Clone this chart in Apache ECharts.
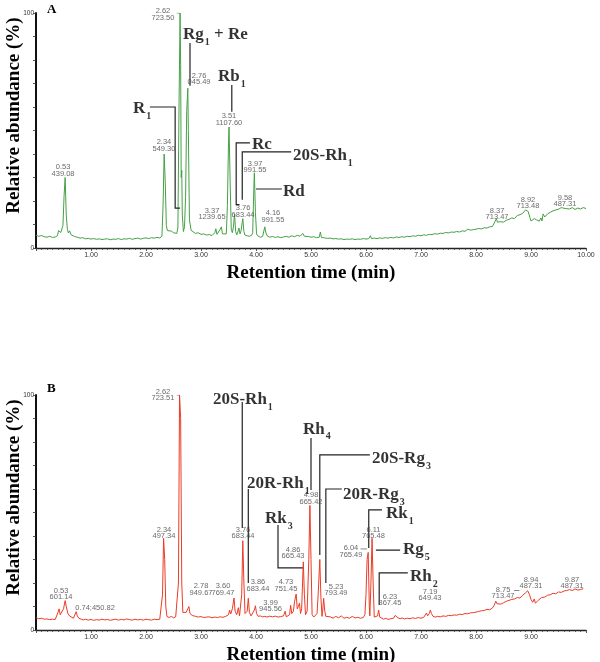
<!DOCTYPE html>
<html><head><meta charset="utf-8">
<script src="https://cdn.jsdelivr.net/npm/echarts@6/dist/echarts.min.js"></script>
<style>html,body{margin:0;padding:0;background:#fff}#c{width:600px;height:662px}</style>
</head><body><div id="c"></div>
<script>
// ---- Panel A trace: [retention time (min), relative abundance (%)]
const traceA = [[0.00,5.4],[0.05,5.0],[0.10,5.3],[0.15,4.8],[0.20,4.6],[0.25,5.0],[0.30,4.5],[0.35,4.7],[0.39,5.2],[0.41,7.4],[0.43,7.9],[0.45,6.6],[0.47,7.2],[0.49,9.5],[0.51,22],[0.53,30],[0.55,14],[0.57,8.0],[0.59,6.4],[0.61,7.3],[0.64,5.6],[0.67,5.9],[0.70,4.9],[0.75,4.6],[0.80,4.2],[0.85,4.4],[0.90,3.9],[0.95,4.1],[1.00,3.8],[1.05,4.0],[1.10,3.7],[1.15,3.9],[1.20,3.6],[1.25,3.8],[1.30,3.9],[1.35,3.5],[1.40,3.8],[1.45,3.7],[1.50,4.0],[1.55,3.6],[1.60,3.9],[1.65,3.8],[1.70,4.1],[1.75,3.7],[1.80,4.0],[1.85,4.2],[1.90,3.8],[1.95,4.1],[2.00,4.3],[2.05,4.0],[2.10,4.4],[2.15,4.2],[2.20,4.5],[2.25,4.3],[2.29,5.0],[2.31,18],[2.33,40],[2.35,28],[2.37,9.5],[2.39,7.4],[2.42,6.8],[2.46,7.2],[2.50,6.5],[2.53,6.9],[2.56,6.2],[2.58,8.5],[2.60,60],[2.62,100],[2.63,78],[2.64,30],[2.65,33],[2.66,14],[2.68,7.0],[2.70,9.0],[2.72,22],[2.74,58],[2.76,68],[2.77,50],[2.79,12],[2.82,7.5],[2.85,6.8],[2.90,6.2],[2.95,6.5],[3.00,5.8],[3.05,6.0],[3.10,5.5],[3.15,5.7],[3.20,5.3],[3.25,6.5],[3.27,8.2],[3.29,5.8],[3.32,6.2],[3.35,8.0],[3.37,9.0],[3.39,6.0],[3.42,5.4],[3.46,6.0],[3.48,18],[3.50,45],[3.51,51.5],[3.53,28],[3.55,8.0],[3.57,6.5],[3.59,9.0],[3.61,14.5],[3.63,7.0],[3.65,5.6],[3.67,6.8],[3.69,8.5],[3.71,6.0],[3.73,7.5],[3.75,11],[3.76,12.5],[3.78,7.0],[3.80,5.5],[3.84,5.2],[3.88,5.0],[3.92,5.4],[3.94,6.5],[3.96,25],[3.97,32],[3.99,15],[4.01,6.0],[4.04,5.0],[4.08,4.6],[4.12,4.9],[4.14,5.6],[4.16,9.0],[4.18,6.4],[4.21,5.0],[4.25,4.6],[4.30,4.9],[4.35,4.5],[4.40,4.8],[4.45,4.4],[4.50,4.7],[4.55,5.0],[4.60,4.6],[4.65,5.2],[4.70,4.8],[4.75,5.4],[4.80,5.0],[4.85,6.2],[4.88,5.0],[4.90,5.6],[4.95,4.9],[5.00,4.6],[5.05,4.8],[5.10,4.4],[5.15,4.6],[5.17,6.8],[5.19,4.5],[5.25,4.3],[5.30,4.1],[5.35,4.2],[5.40,3.9],[5.45,4.0],[5.50,3.8],[5.55,3.9],[5.60,3.6],[5.65,3.8],[5.70,3.7],[5.75,3.9],[5.80,3.6],[5.85,3.8],[5.90,3.7],[5.95,4.0],[6.00,3.8],[6.05,4.0],[6.08,5.2],[6.10,4.0],[6.15,4.2],[6.20,4.0],[6.25,4.3],[6.30,4.1],[6.35,4.4],[6.40,4.2],[6.45,4.5],[6.50,4.3],[6.55,4.7],[6.60,4.5],[6.65,4.8],[6.70,4.6],[6.75,5.0],[6.80,4.8],[6.85,5.2],[6.90,5.0],[6.95,5.4],[7.00,5.2],[7.05,5.6],[7.10,5.4],[7.15,5.8],[7.20,5.7],[7.25,6.1],[7.30,5.9],[7.35,6.3],[7.40,6.2],[7.45,6.6],[7.50,6.4],[7.55,6.8],[7.60,6.7],[7.65,7.0],[7.70,6.8],[7.75,7.3],[7.80,7.1],[7.85,8.0],[7.88,7.2],[7.90,7.6],[7.95,7.8],[8.00,8.0],[8.05,8.3],[8.10,8.1],[8.15,8.6],[8.20,8.5],[8.25,9.0],[8.30,9.2],[8.33,9.8],[8.35,11.5],[8.37,12.5],[8.39,11.0],[8.42,10.5],[8.45,11.2],[8.50,11.0],[8.55,11.8],[8.60,12.2],[8.65,12.8],[8.70,12.5],[8.75,13.8],[8.80,14.2],[8.85,14.8],[8.90,16.2],[8.92,16.5],[8.95,15.5],[8.98,13.0],[9.00,11.5],[9.03,11.2],[9.06,12.5],[9.10,12.0],[9.15,11.4],[9.18,12.8],[9.20,11.5],[9.22,14.5],[9.25,13.2],[9.30,14.5],[9.35,15.2],[9.40,15.8],[9.45,16.2],[9.50,16.5],[9.55,17.2],[9.58,17.5],[9.62,16.8],[9.65,17.3],[9.70,16.6],[9.75,17.2],[9.80,16.4],[9.85,17.0],[9.90,16.6],[9.95,17.2],[10.00,16.8]];

// ---- Panel B trace
const traceB = [[0.00,5.2],[0.05,4.8],[0.10,5.0],[0.15,4.6],[0.20,4.7],[0.25,4.4],[0.30,4.6],[0.35,4.5],[0.38,5.0],[0.40,7.5],[0.42,9.0],[0.44,6.5],[0.47,7.0],[0.50,9.0],[0.53,12.5],[0.55,10.0],[0.58,7.0],[0.61,6.0],[0.64,5.5],[0.68,5.0],[0.71,5.5],[0.73,7.8],[0.75,6.0],[0.78,5.0],[0.82,4.6],[0.86,4.3],[0.90,4.6],[0.95,4.2],[1.00,4.5],[1.05,4.1],[1.10,4.4],[1.15,4.2],[1.20,4.6],[1.25,4.3],[1.30,4.5],[1.35,4.1],[1.40,4.4],[1.45,4.6],[1.50,4.2],[1.55,4.5],[1.60,4.3],[1.65,4.7],[1.70,4.4],[1.75,4.2],[1.80,4.6],[1.85,4.3],[1.90,4.5],[1.95,4.2],[2.00,4.6],[2.05,4.4],[2.10,4.2],[2.15,4.6],[2.20,4.4],[2.25,4.6],[2.28,5.0],[2.30,15],[2.32,39],[2.34,30],[2.36,10],[2.38,5.8],[2.42,5.3],[2.46,5.8],[2.50,5.2],[2.54,5.6],[2.57,6.0],[2.59,20],[2.61,100],[2.63,90],[2.65,20],[2.67,7.5],[2.70,6.8],[2.73,7.5],[2.76,9.0],[2.78,10.0],[2.80,7.0],[2.84,6.2],[2.90,5.8],[2.95,5.5],[3.00,5.7],[3.05,5.3],[3.10,5.5],[3.15,5.6],[3.20,5.2],[3.25,5.5],[3.30,5.3],[3.35,5.6],[3.40,5.4],[3.45,5.8],[3.50,6.5],[3.52,8.5],[3.54,6.8],[3.57,9.0],[3.60,13.6],[3.62,8.0],[3.65,6.5],[3.68,9.5],[3.70,6.0],[3.72,6.5],[3.74,15],[3.76,38],[3.78,20],[3.80,7.0],[3.82,6.5],[3.84,8.0],[3.86,13.5],[3.88,7.5],[3.91,6.0],[3.94,6.2],[3.97,8.5],[3.99,10.3],[4.01,7.0],[4.04,5.8],[4.08,6.0],[4.12,5.6],[4.16,5.8],[4.20,5.5],[4.25,5.9],[4.30,5.6],[4.35,5.9],[4.40,5.5],[4.45,5.7],[4.50,6.0],[4.53,8.0],[4.55,5.6],[4.58,5.8],[4.61,6.5],[4.63,10.5],[4.65,7.0],[4.68,8.0],[4.70,12.0],[4.73,15.3],[4.75,9.0],[4.77,10.0],[4.79,11.5],[4.81,7.0],[4.83,9.0],[4.86,29],[4.88,15],[4.90,6.5],[4.93,8.0],[4.96,30],[4.98,53],[5.00,30],[5.02,6.5],[5.05,5.5],[5.08,6.0],[5.11,7.0],[5.13,15],[5.16,30],[5.18,14],[5.20,5.8],[5.21,7.5],[5.23,13.5],[5.25,8.0],[5.27,5.8],[5.30,5.2],[5.35,5.6],[5.40,5.0],[5.45,5.8],[5.50,5.2],[5.55,6.0],[5.60,5.0],[5.65,5.4],[5.70,5.0],[5.75,5.8],[5.80,5.1],[5.85,5.4],[5.90,5.0],[5.95,5.3],[5.98,6.5],[6.00,15],[6.02,30],[6.04,33],[6.06,10],[6.07,6.0],[6.09,20],[6.11,39],[6.13,20],[6.15,5.5],[6.18,4.8],[6.21,6.0],[6.23,8.5],[6.25,5.5],[6.28,5.0],[6.32,4.6],[6.36,5.0],[6.40,4.5],[6.45,4.8],[6.50,5.0],[6.53,6.2],[6.55,6.8],[6.58,5.2],[6.62,4.8],[6.66,5.1],[6.70,4.7],[6.75,5.0],[6.80,4.8],[6.85,5.2],[6.90,4.9],[6.95,5.3],[7.00,5.0],[7.05,5.4],[7.08,6.0],[7.10,7.2],[7.12,6.0],[7.15,7.0],[7.17,8.5],[7.19,7.0],[7.22,5.8],[7.26,5.5],[7.30,5.8],[7.35,5.6],[7.40,6.0],[7.45,5.8],[7.50,6.2],[7.55,6.1],[7.60,6.4],[7.65,6.3],[7.70,6.7],[7.75,6.6],[7.80,7.0],[7.85,6.9],[7.90,7.3],[7.95,7.4],[8.00,7.6],[8.05,7.9],[8.10,8.2],[8.15,8.3],[8.20,8.8],[8.25,8.6],[8.30,9.4],[8.33,10.5],[8.36,12.3],[8.38,11.2],[8.40,10.5],[8.45,11.0],[8.50,11.6],[8.55,12.2],[8.60,12.6],[8.65,13.0],[8.70,13.2],[8.75,13.8],[8.78,14.5],[8.80,13.6],[8.85,14.8],[8.90,15.8],[8.94,16.7],[8.97,15.2],[9.00,13.0],[9.03,11.8],[9.06,13.2],[9.08,11.4],[9.10,12.0],[9.13,12.6],[9.16,11.8],[9.19,13.8],[9.22,14.6],[9.25,14.0],[9.30,14.8],[9.35,15.0],[9.40,15.6],[9.45,15.4],[9.50,16.2],[9.55,16.0],[9.60,16.6],[9.65,16.8],[9.70,17.2],[9.75,16.8],[9.80,17.5],[9.85,17.0],[9.87,17.8],[9.90,17.2],[9.95,17.6]];

// ---- Peak annotations: [label centre t, label centre %, retention time, m/z]
const peakNotesA = [[0.491,33.0,'0.53','439.08'],[2.327,43.6,'2.34','549.30'],[2.309,99.3,'2.62','723.50'],[2.964,71.9,'2.76','045.49'],[3.20,14.6,'3.37','1239.65'],[3.509,54.7,'3.51','1107.60'],[3.764,15.6,'3.76','683.44'],[3.982,34.5,'3.97','991.55'],[4.309,13.5,'4.16','991.55'],[8.382,14.6,'8.37','713.47'],[8.945,19.1,'8.92','713.48'],[9.618,20.0,'9.58','487.31']];
const peakNotesB = [[0.455,15.3,'0.53','601.14'],[2.327,41.3,'2.34','497.34'],[2.309,100,'2.62','723.51'],[3.0,17.2,'2.78','949.67'],[3.4,17.2,'3.60','769.47'],[3.764,41.3,'3.76','683.44'],[4.036,18.9,'3.86','683.44'],[4.264,10.2,'3.99','945.56'],[4.545,18.9,'4.73','751.45'],[4.673,32.8,'4.86','665.43'],[5.0,56.0,'4.98','665.42'],[5.455,17.1,'5.23','793.49'],[5.727,33.5,'6.04','765.49'],[6.136,41.3,'6.11','765.48'],[6.436,12.8,'6.23','867.45'],[7.164,14.9,'7.19','649.43'],[8.491,15.7,'8.75','713.47'],[9.0,20.0,'8.94','487.31'],[9.745,20.0,'9.87','487.31']];
const singleNotesB = [[1.073,9.4,'0.74;450.82']];

// ---- Compound names: [anchor t, anchor %, name, subscript, suffix]
const compoundsA = [[2.673,91.5,'Rg','1',' + Re'],[1.764,60.0,'R','1',''],[3.309,73.6,'Rb','1',''],[3.927,44.7,'Rc','',''],[4.673,40.0,'20S-Rh','1',''],[4.491,24.7,'Rd','','']];
const compoundsB = [[3.218,98.7,'20S-Rh','1',''],[3.836,63.0,'20R-Rh','1',''],[4.164,48.1,'Rk','3',''],[4.855,86.0,'Rh','4',''],[6.109,73.6,'20S-Rg','3',''],[5.582,58.3,'20R-Rg','3',''],[6.364,50.2,'Rk','1',''],[6.673,34.9,'Rg','5',''],[6.80,23.4,'Rh','2','']];

// ---- Leader lines (data coordinates)
const leadersA = [[[2.80,87.2],[2.80,69.0]],[[2.07,60.0],[2.53,60.0],[2.53,17.0],[2.62,17.0]],[[3.56,69.4],[3.56,58.0]],[[3.89,44.7],[3.64,44.7],[3.64,18.5],[3.70,18.5]],[[4.64,40.9],[3.75,40.9],[3.75,20.5]],[[4.47,25.1],[4.00,25.1]]];
const leadersB = [[[3.75,97.0],[3.75,43.4]],[[3.86,60.0],[3.86,20.0]],[[4.40,44.7],[4.40,26.4],[4.85,26.4]],[[5.00,81.7],[5.00,59.6]],[[6.07,74.5],[5.16,74.5],[5.16,31.9]],[[5.56,60.0],[5.27,60.0],[5.27,20.0]],[[6.29,51.1],[6.05,51.1],[6.05,34.9]],[[6.62,34.0],[6.18,34.0]],[[6.76,24.3],[6.24,24.3],[6.24,10.6]]];
const dashesA = [[[2.56,100],[2.615,100]]];
const dashesB = [[[2.56,100],[2.61,100]],[[5.90,34.5],[6.02,34.5]],[[8.69,16.8],[8.79,16.8]]];

const xTicks = [1,2,3,4,5,6,7,8,9,10];

const SERIF = '"Liberation Serif","Times New Roman",serif';
const SANS = '"Liberation Sans",Arial,sans-serif';
const chart = echarts.init(document.getElementById('c'), null, {renderer:'canvas'});

const grids = [{left:36, top:13, width:550, height:235, outerBoundsMode:'none', containLabel:false},
               {left:36, top:395, width:550, height:235, outerBoundsMode:'none', containLabel:false}];
function xAxis(i, showMax){
  return {type:'value', gridIndex:i, min:0, max:10, interval:1,
    axisLine:{show:true, onZero:false, lineStyle:{color:'#222', width:1.3}},
    axisTick:{show:true, length:3, lineStyle:{color:'#333', width:0.8}},
    minorTick:{show:true, splitNumber:10, length:2, lineStyle:{color:'#333', width:0.7}},
    splitLine:{show:false},
    axisLabel:{fontSize:7, color:'#333', fontFamily:SANS, margin:4, showMinLabel:false, showMaxLabel:showMax,
      formatter:v => xTicks.indexOf(Math.round(v*100)/100) >= 0 ? v.toFixed(2) : ''},
    name:'Retention time (min)', nameLocation:'middle', nameGap:16,
    nameTextStyle:{fontFamily:SERIF, fontWeight:'bold', fontSize:19, color:'#000'}};
}
function yAxis(i){
  return {type:'value', gridIndex:i, min:0, max:100, interval:10,
    axisLine:{show:true, lineStyle:{color:'#111', width:2}},
    axisTick:{show:true, length:3, lineStyle:{color:'#333', width:0.8}},
    splitLine:{show:false},
    axisLabel:{fontSize:6.5, color:'#333', fontFamily:SANS, margin:2, formatter:v => (v===0||v===100)? String(v) : ''},
    name:'Relative abundance (%)', nameLocation:'middle', nameGap:12, nameMoveOverlap:false,
    nameTextStyle:{fontFamily:SERIF, fontWeight:'bold', fontSize:19, color:'#000', padding:[0,0,0,30]}};
}
const rich = {
  b:{fontFamily:SERIF, fontWeight:'bold', fontSize:17, color:'#000', lineHeight:20, verticalAlign:'bottom'},
  s:{fontFamily:SERIF, fontWeight:'bold', fontSize:10, color:'#000', lineHeight:14, verticalAlign:'bottom', padding:[0,0,-4,1]}
};
function panelSeries(i, trace, color, notes, singles, compounds, leaders, dashes){
  return [
    {type:'line', xAxisIndex:i, yAxisIndex:i, data:trace, showSymbol:false, symbol:'none', lineStyle:{color:color, width:1}, animation:false, z:3},
    {type:'lines', coordinateSystem:'cartesian2d', xAxisIndex:i, yAxisIndex:i, polyline:true, animation:false, silent:true,
      data:leaders.map(c=>({coords:c})), lineStyle:{color:'#222', width:1.2, opacity:1}, z:4},
    {type:'lines', coordinateSystem:'cartesian2d', xAxisIndex:i, yAxisIndex:i, polyline:true, animation:false, silent:true,
      data:dashes.map(c=>({coords:c})), lineStyle:{color:'#555', width:0.7, opacity:1}, z:4},
    {type:'scatter', xAxisIndex:i, yAxisIndex:i, symbolSize:0, clip:false, animation:false, silent:true,
      data:notes.map(p=>[p[0],p[1],p[2]+'\n'+p[3]]).concat(singles.map(p=>[p[0],p[1],p[2]])),
      label:{show:true, position:'inside', formatter:p=>p.value[2], fontSize:7.5, lineHeight:6.5, color:'#444', fontFamily:SANS, align:'center', verticalAlign:'middle'}, z:5},
    {type:'scatter', xAxisIndex:i, yAxisIndex:i, symbolSize:0, clip:false, animation:false, silent:true,
      data:compounds.map(c=>[c[0],c[1],c[2],c[3],c[4]]),
      label:{show:true, position:'right', distance:0, color:'#000', rich:rich,
        formatter:p=>'{b|'+p.value[2]+'}'+(p.value[3]?'{s|'+p.value[3]+'}':'')+(p.value[4]?'{b|'+p.value[4]+'}':'')}, z:6}
  ];
}
const option = {
  animation:false,
  backgroundColor:'#fff',
  title:[
    {text:'A', left:42, top:-2, textStyle:{fontFamily:SERIF, fontWeight:'bold', fontSize:13, color:'#000'}},
    {text:'B', left:42, top:377, textStyle:{fontFamily:SERIF, fontWeight:'bold', fontSize:13, color:'#000'}}
  ],
  grid:grids,
  xAxis:[xAxis(0,true), xAxis(1,false)],
  yAxis:[yAxis(0), yAxis(1)],
  series:[].concat(
    panelSeries(0, traceA, '#45a045', peakNotesA, [], compoundsA, leadersA, dashesA),
    panelSeries(1, traceB, '#ec3b26', peakNotesB, singleNotesB, compoundsB, leadersB, dashesB)
  )
};
chart.setOption(option);
</script></body></html>
